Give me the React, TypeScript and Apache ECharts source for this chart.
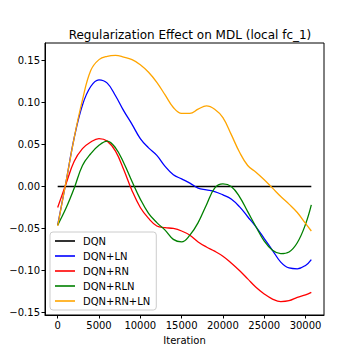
import React, { useEffect, useRef } from "react";
import * as echarts from "echarts";

const iterations = [0, 1000, 2000, 3000, 4000, 5000, 6000, 7000, 8000, 9000, 10000, 11000, 12000, 13000, 14000, 15000, 16000, 17000, 18000, 19000, 20000, 21000, 22000, 23000, 24000, 25000, 26000, 27000, 28000, 29000, 30000, 30700];

const dqn = iterations.map(() => 0);
const dqnLN = [-0.046, 0.005, 0.058, 0.097, 0.119, 0.127, 0.123, 0.108, 0.09, 0.074, 0.057, 0.046, 0.037, 0.024, 0.014, 0.009, 0.004, -0.002, -0.004, -0.006, -0.01, -0.015, -0.024, -0.036, -0.048, -0.062, -0.076, -0.09, -0.097, -0.098, -0.094, -0.087];
const dqnRN = [-0.025, 0.003, 0.03, 0.045, 0.053, 0.057, 0.054, 0.042, 0.02, -0.005, -0.025, -0.038, -0.047, -0.049, -0.05, -0.053, -0.058, -0.066, -0.072, -0.077, -0.083, -0.091, -0.1, -0.11, -0.12, -0.128, -0.134, -0.137, -0.136, -0.132, -0.129, -0.126];
const dqnRLN = [-0.046, -0.026, -0.002, 0.025, 0.039, 0.049, 0.054, 0.046, 0.028, 0.006, -0.015, -0.032, -0.043, -0.052, -0.063, -0.066, -0.058, -0.043, -0.022, -0.002, 0.003, 0.0, -0.012, -0.03, -0.048, -0.065, -0.076, -0.08, -0.078, -0.067, -0.045, -0.022];
const dqnRNLN = [-0.047, 0.005, 0.058, 0.103, 0.138, 0.151, 0.155, 0.156, 0.154, 0.151, 0.145, 0.136, 0.124, 0.109, 0.094, 0.087, 0.087, 0.092, 0.096, 0.092, 0.082, 0.062, 0.041, 0.025, 0.017, 0.008, -0.002, -0.012, -0.021, -0.031, -0.044, -0.053];

const seriesNames = ["DQN", "DQN+LN", "DQN+RN", "DQN+RLN", "DQN+RN+LN"];
const seriesColors = ["#000000", "#0000ff", "#ff0000", "#008000", "#ffa500"];
const seriesValues = [dqn, dqnLN, dqnRN, dqnRLN, dqnRNLN];

const xTicks = [0, 5000, 10000, 15000, 20000, 25000, 30000];
const yTicks = [-0.15, -0.1, -0.05, 0, 0.05, 0.1, 0.15];

const FONT = "DejaVu Sans";

export default function App() {
  const ref = useRef<HTMLDivElement>(null);
  useEffect(() => {
    if (!ref.current) return;
    const chart = echarts.init(ref.current, null, { renderer: "svg" });
    const fmtY = (v: number) => {
      const s = Math.abs(v).toFixed(2);
      return v < -1e-9 ? "\u2212" + s : s;
    };
    chart.setOption({
      animation: false,
      backgroundColor: "#ffffff",
      title: {
        text: "Regularization Effect on MDL (local fc_1)",
        left: 185,
        top: 24,
        textAlign: "center",
        textStyle: { fontFamily: FONT, fontSize: 12, fontWeight: "normal", color: "#000" },
      },
      grid: {
        left: 45,
        right: 36,
        top: 43,
        bottom: 45,
        outerBoundsMode: "none",
        containLabel: false,
        show: true,
        borderColor: "#000",
        borderWidth: 1,
        backgroundColor: "transparent",
      },
      legend: {
        orient: "vertical",
        left: 50,
        top: 232,
        data: seriesNames.map((n, i) => ({ name: n, itemStyle: { color: seriesColors[i], opacity: 0.8 } })),
        icon: "rect",
        itemWidth: 20,
        itemHeight: 2,
        itemGap: 3,
        padding: [3, 6, 3, 5],
        backgroundColor: "rgba(255,255,255,0.8)",
        borderColor: "#cccccc",
        borderWidth: 1,
        borderRadius: 3,
        textStyle: { fontFamily: FONT, fontSize: 10, color: "#000", lineHeight: 12, padding: [0, 0, 0, 3] },
      },
      xAxis: {
        type: "value",
        min: -1535,
        max: 32235,
        name: "Iteration",
        nameLocation: "middle",
        nameGap: 20,
        nameTextStyle: { fontFamily: FONT, fontSize: 10, color: "#000" },
        axisLine: { show: true, onZero: false, lineStyle: { color: "#000", width: 1 } },
        axisTick: { show: true, length: 3.5, customValues: xTicks, lineStyle: { color: "#000" } },
        axisLabel: { customValues: xTicks, fontFamily: FONT, fontSize: 10, color: "#000", margin: 5, formatter: (v: number) => String(v) },
        splitLine: { show: false },
      },
      yAxis: {
        type: "value",
        min: -0.153,
        max: 0.1708,
        name: "MDL",
        nameLocation: "middle",
        nameRotate: 90,
        nameGap: 56,
        nameTextStyle: { fontFamily: FONT, fontSize: 10, color: "#000" },
        axisLine: { show: true, onZero: false, lineStyle: { color: "#000", width: 1 } },
        axisTick: { show: true, length: 3.5, customValues: yTicks, lineStyle: { color: "#000" } },
        axisLabel: { customValues: yTicks, fontFamily: FONT, fontSize: 10, color: "#000", margin: 5, formatter: fmtY },
        splitLine: { show: false },
      },
      series: seriesNames.map((name, i) => ({
        name,
        type: "line",
        data: iterations.map((x, j) => [x, seriesValues[i][j]]),
        smooth: 0.4,
        showSymbol: false,
        symbol: "none",
        lineStyle: { color: seriesColors[i], width: 1.3 },
        itemStyle: { color: seriesColors[i] },
        z: i === 0 ? 1 : 2,
      })),
    });
    return () => chart.dispose();
  }, []);
  return (
    <div
      ref={ref}
      style={{ position: "absolute", left: 0, top: 0, width: 360, height: 360 }}
    />
  );
}
